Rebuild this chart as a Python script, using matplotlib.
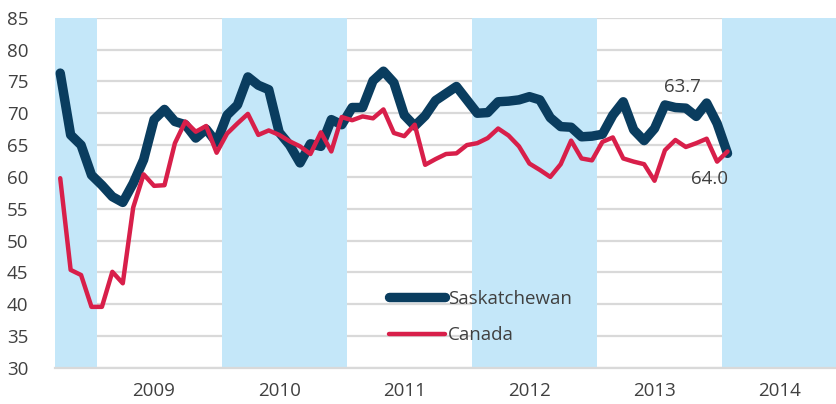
import numpy as np
import matplotlib.pyplot as plt

# datos mensuales, sep 2008 - ene 2014
saskatchewan = [76.3, 66.6, 65.0, 60.3, 58.7, 56.9, 56.0, 59.0, 62.7, 69.0, 70.6, 68.7,
                68.2, 66.1, 67.5, 65.4, 69.7, 71.3, 75.7, 74.4, 73.7, 67.0, 65.0, 62.2,
                65.2, 64.8, 69.0, 68.2, 70.9, 70.9, 75.1, 76.6, 74.8, 69.7, 68.0, 69.6,
                72.0, 73.1, 74.2, 72.1, 70.0, 70.1, 71.8, 71.9, 72.1, 72.6, 72.1, 69.3,
                67.9, 67.8, 66.3, 66.4, 66.7, 69.7, 71.8, 67.4, 65.7, 67.6, 71.3, 70.9,
                70.8, 69.5, 71.6, 68.4, 63.7]
canada = [59.8, 45.4, 44.6, 39.6, 39.6, 45.1, 43.3, 55.2, 60.4, 58.6, 58.7, 65.3,
          68.7, 67.1, 68.0, 63.8, 66.8, 68.4, 69.9, 66.6, 67.3, 66.6, 65.6, 64.8,
          63.6, 67.0, 64.0, 69.4, 68.9, 69.5, 69.2, 70.6, 66.9, 66.4, 68.2, 61.9,
          62.8, 63.6, 63.7, 65.0, 65.3, 66.1, 67.6, 66.5, 64.8, 62.1, 61.1, 60.0,
          62.0, 65.7, 62.9, 62.6, 65.5, 66.2, 62.9, 62.4, 62.0, 59.4, 64.2, 65.8,
          64.7, 65.3, 66.0, 62.4, 64.0]
anios = ['2009', '2010', '2011', '2012', '2013', '2014']
n_meses = 75  # sep 2008 - nov 2014

plt.rcParams['font.family'] = ['Open Sans', 'DejaVu Sans']
azul = '#0A3D5F'
rojo = '#D81F4A'
celeste = '#C4E7F9'
gris_txt = '#404040'

fig = plt.figure(figsize=(8.37, 4.04), dpi=100)
ax = fig.add_axes([55/837, 1-368/404, 1-55/837, (368-17.7)/404])

# bandas de años alternos (2008, 2010, 2012, 2014)
inicio = -0.5
for k in range(7):
    fin = min(inicio + (4 if k == 0 else 12), n_meses - 0.5)
    if k % 2 == 0:
        ax.axvspan(inicio, fin, color=celeste, lw=0, zorder=1)
    inicio = fin

ax.yaxis.grid(True, color='#D9D9D9', lw=1.6, zorder=0)
ax.set_axisbelow(True)

x = np.arange(len(saskatchewan))
ax.plot(x, saskatchewan, color=azul, lw=6.8, solid_capstyle='round',
        solid_joinstyle='round', label='Saskatchewan', zorder=3)
ax.plot(x, canada, color=rojo, lw=3.2, solid_capstyle='round',
        solid_joinstyle='round', label='Canada', zorder=4)

ax.text(59.7, 74.1, '63.7', ha='center', va='center', fontsize=13.5, color=gris_txt)
ax.text(62.3, 59.7, '64.0', ha='center', va='center', fontsize=13.5, color=gris_txt)

ax.set_xlim(-0.5, n_meses - 0.5)
ax.set_ylim(30, 85)
ax.set_yticks(range(30, 86, 5))
ax.set_xticks([4 + 12*i + 5 for i in range(len(anios))])
ax.set_xticklabels(anios)
ax.tick_params(length=0, labelsize=13.5, labelcolor=gris_txt)
ax.tick_params(axis='y', pad=19)
ax.tick_params(axis='x', pad=10)
for s in ['top', 'right', 'left']:
    ax.spines[s].set_visible(False)
ax.spines['bottom'].set_color('#D9D9D9')
ax.spines['bottom'].set_linewidth(1.6)
ax.spines['bottom'].set_zorder(2)

leg = ax.legend(loc='center left', bbox_to_anchor=(389/837, 1-317/404),
                bbox_transform=fig.transFigure, frameon=False, fontsize=13.5,
                handlelength=3.0, handletextpad=0.15, labelspacing=1.0,
                borderpad=0, borderaxespad=0)
for t in leg.get_texts():
    t.set_color(gris_txt)

fig.savefig('out.png', dpi=100)
